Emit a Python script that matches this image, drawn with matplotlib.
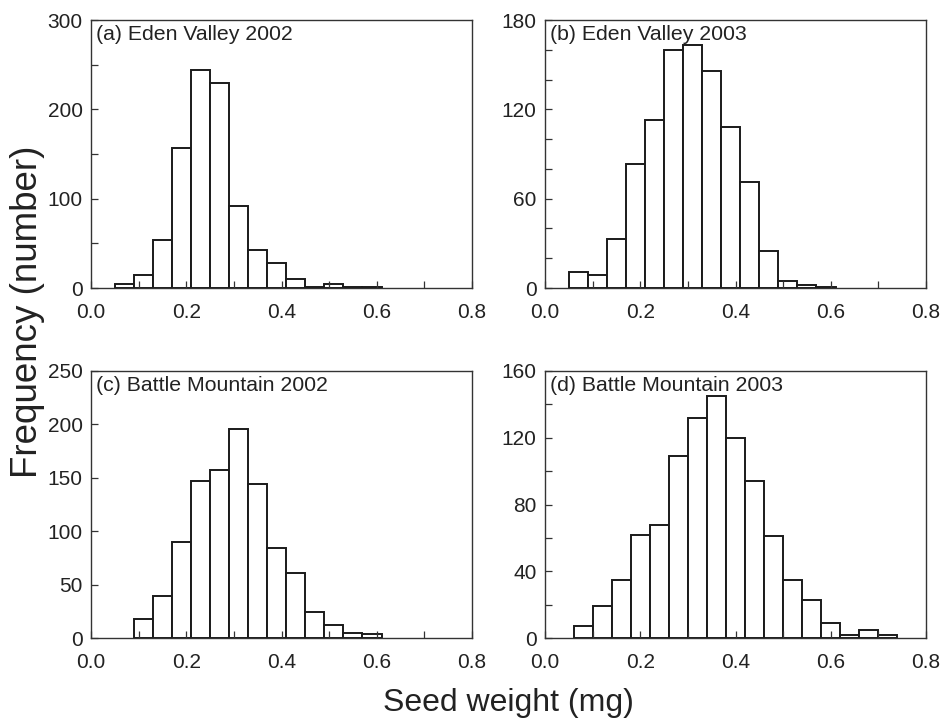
import numpy as np
import matplotlib
matplotlib.use('Agg')
import matplotlib.pyplot as plt
from matplotlib.ticker import MultipleLocator

plt.rcParams['font.family'] = ['Liberation Sans', 'DejaVu Sans']

bin_width = 0.04

# counts per 0.04 mg bin, with the left edge of the first bin
a_start = 0.05
a_counts = [4, 14, 54, 157, 244, 229, 92, 43, 28, 10, 1, 4, 1, 1]
b_start = 0.05
b_counts = [11, 9, 33, 83, 113, 160, 163, 146, 108, 71, 25, 5, 2, 1]
c_start = 0.09
c_counts = [18, 39, 90, 147, 157, 196, 144, 84, 61, 24, 12, 5, 4]
d_start = 0.06
d_counts = [7, 19, 35, 62, 68, 109, 132, 145, 120, 94, 61, 35, 23, 9, 2, 5, 2]

titles = ['(a) Eden Valley 2002', '(b) Eden Valley 2003',
          '(c) Battle Mountain 2002', '(d) Battle Mountain 2003']
y_max = [300, 180, 250, 160]
y_major = [100, 60, 50, 40]
y_minor = [50, 20, 50, 20]

W, H = 942, 723
fig = plt.figure(figsize=(W / 100, H / 100), dpi=100)

# axes boxes in pixels: left, top, right, bottom
boxes = [(91, 20, 472, 288), (545, 20, 926, 288),
         (91, 371, 472, 638), (545, 371, 926, 638)]

panels = [(a_start, a_counts), (b_start, b_counts),
          (c_start, c_counts), (d_start, d_counts)]

for i, (start, counts) in enumerate(panels):
    l, t, r, b = boxes[i]
    ax = fig.add_axes([l / W, (H - b) / H, (r - l) / W, (b - t) / H])
    lefts = start + bin_width * np.arange(len(counts))
    ax.bar(lefts, counts, width=bin_width, align='edge',
           facecolor='white', edgecolor='#1a1a1a', linewidth=1.4)
    ax.set_xlim(0, 0.8)
    ax.set_ylim(0, y_max[i])
    ax.xaxis.set_major_locator(MultipleLocator(0.2))
    ax.xaxis.set_minor_locator(MultipleLocator(0.1))
    ax.yaxis.set_major_locator(MultipleLocator(y_major[i]))
    ax.yaxis.set_minor_locator(MultipleLocator(y_minor[i]))
    ax.xaxis.set_major_formatter(plt.FuncFormatter(lambda v, p: f'{v:.1f}'))
    ax.tick_params(which='both', direction='in', length=5, width=0.9,
                   color='#333333', labelsize=15, labelcolor='#222222',
                   top=False, right=False)
    ax.tick_params(axis='x', pad=11)
    ax.tick_params(axis='y', pad=6)
    for s in ax.spines.values():
        s.set_linewidth(1.0)
        s.set_color('#333333')
    ax.text(0.012, 0.982, titles[i], transform=ax.transAxes,
            ha='left', va='top', fontsize=15.3, color='#222222')

fig.text(508 / W, 1 - 703 / H, 'Seed weight (mg)', ha='center', va='center',
         fontsize=23, color='#222222')
fig.text(28 / W, 1 - 312 / H, 'Frequency (number)', ha='center', va='center',
         rotation=90, fontsize=26.5, color='#222222')

fig.savefig('out.png', dpi=100)
